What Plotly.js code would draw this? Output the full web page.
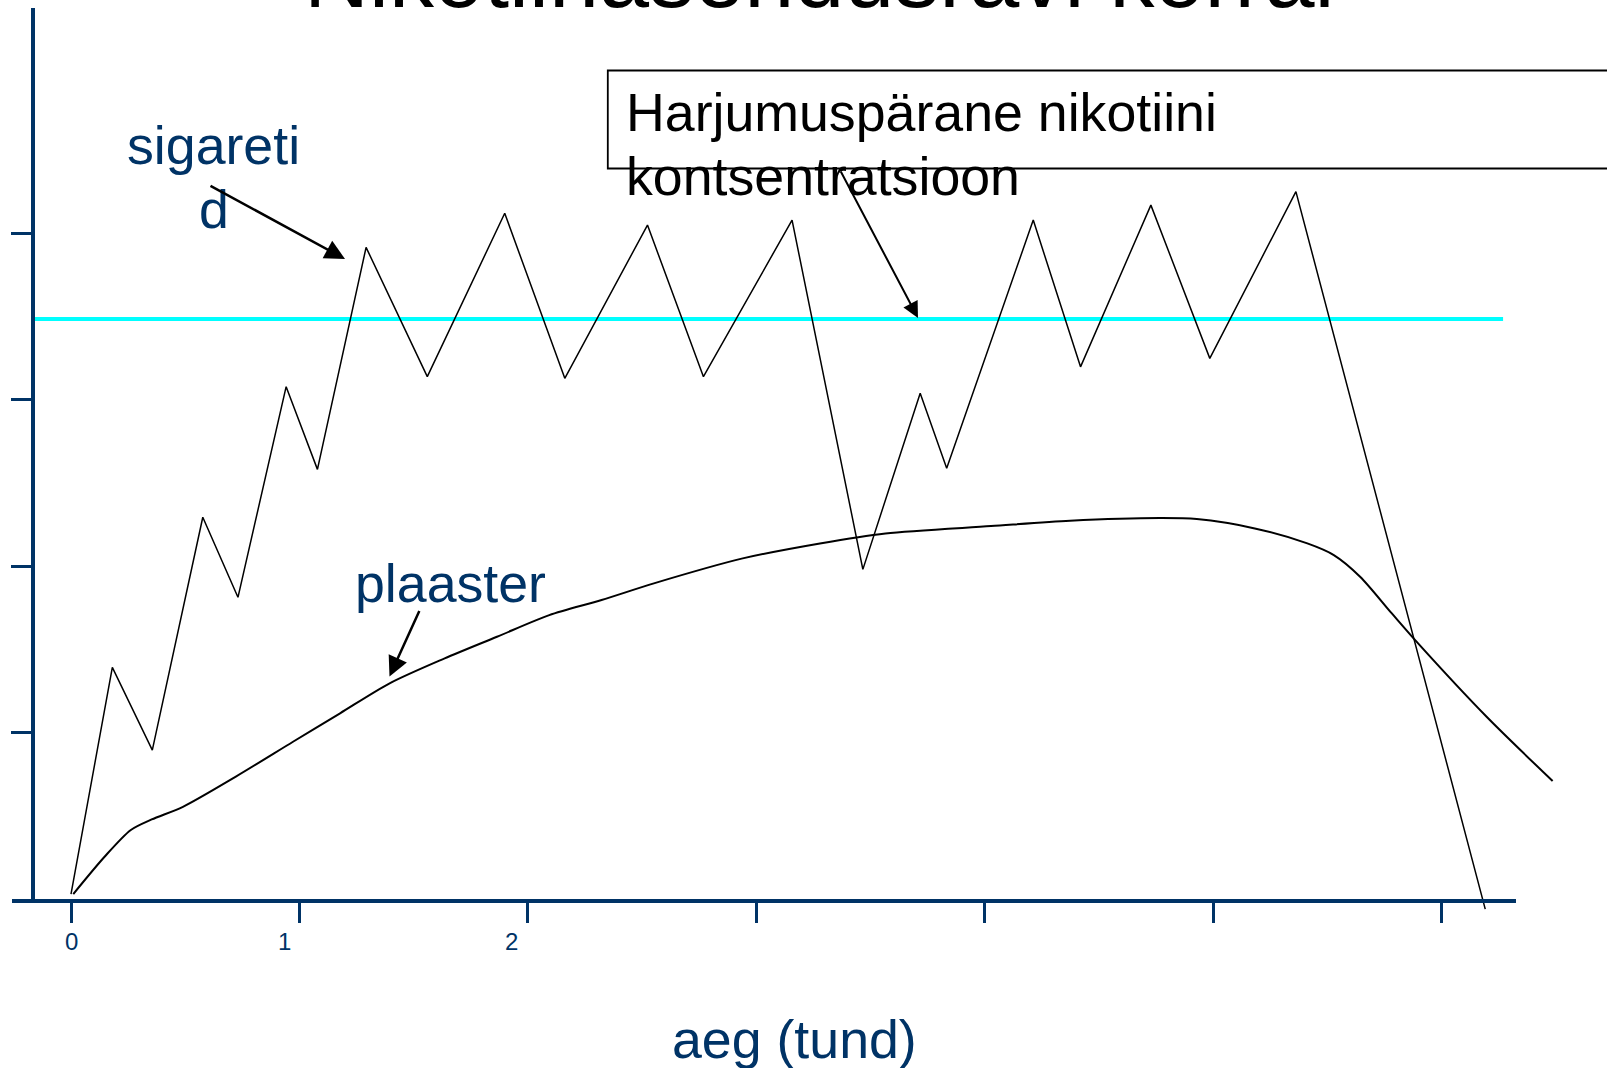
<!DOCTYPE html>
<html>
<head>
<meta charset="utf-8">
<script src="https://cdn.plot.ly/plotly-3.0.1.min.js"></script>
<style>html,body{margin:0;padding:0;background:#fff;}#chart{width:1607px;height:1068px;}</style>
</head>
<body>
<div id="chart"></div>
<script>
// ---------- data (hours on x, concentration in tick units on y) ----------
const hourTicks = [0, 1, 2, 3, 4, 5, 6];
const hourLabels = ['0', '1', '2', '', '', '', ''];
const levelTicks = [1, 2, 3, 4];

const cigaretteTime  = [0.00, 0.181, 0.356, 0.577, 0.731, 0.942, 1.079, 1.292, 1.560, 1.899, 2.162, 2.524, 2.769, 3.157, 3.467, 3.718, 3.834, 4.213, 4.420, 4.728, 4.986, 5.363, 6.192];
const cigaretteLevel = [0.03, 1.392, 0.895, 2.294, 1.813, 3.079, 2.582, 3.916, 3.139, 4.121, 3.129, 4.050, 3.139, 4.080, 1.981, 3.039, 2.588, 4.080, 3.198, 4.170, 3.249, 4.251, -0.061];

const patchTime  = [0.01, 0.147, 0.262, 0.353, 0.490, 0.720, 0.972, 1.178, 1.395, 1.636, 1.865, 2.094, 2.323, 2.552, 2.941, 3.279, 3.566, 4.028, 4.374, 4.767, 4.929, 5.183, 5.413, 5.529, 5.644, 5.783, 5.898, 6.198, 6.487];
const patchLevel = [0.03, 0.254, 0.415, 0.478, 0.554, 0.734, 0.945, 1.116, 1.296, 1.446, 1.576, 1.706, 1.797, 1.897, 2.047, 2.137, 2.197, 2.241, 2.273, 2.289, 2.283, 2.227, 2.137, 2.067, 1.937, 1.716, 1.536, 1.095, 0.709];

const habitualTime  = [-0.16, 6.27];
const habitualLevel = [3.486, 3.486];

const titleText = 'Nikotiinasendusravi korral';
const xTitleText = 'aeg (tund)';
const cigaretteLabel = ['sigareti', 'd'];
const patchLabel = 'plaaster';
const habitualLabel = ['Harjumuspärane nikotiini', 'kontsentratsioon'];

// ---------- geometry / styles ----------
const W = 1607, H = 1068;
const X0PX = 71, HOUR_PX = 228.4, Y0PX = 899, UNIT_PX = 166.4;
const AX_LEFT_PX = 11.5, AX_RIGHT_PX = 1515.7, AX_TOP_PX = 8.3, YAXIS_PX = 32.4;
const NAVY = '#003366';
const FONT = 'Liberation Sans, Arial, Helvetica, sans-serif';
const LABEL_SIZE = 53.7;
const px = v => v / W;
const py = v => 1 - v / H;
const xv = p => (p - X0PX) / HOUR_PX;
const yv = p => (Y0PX - p) / UNIT_PX;

const traces = [
  {x: habitualTime, y: habitualLevel, mode: 'lines', line: {color: '#00FFFF', width: 4}, hoverinfo: 'skip'},
  {x: patchTime, y: patchLevel, mode: 'lines', line: {color: '#000000', width: 2, shape: 'spline', smoothing: 0.8}, hoverinfo: 'skip'},
  {x: cigaretteTime, y: cigaretteLevel, mode: 'lines', line: {color: '#000000', width: 1.5}, hoverinfo: 'skip'}
];

const labelShift = [0, -15, -16, 0, 0, 0, 0];
const annotations = [];
hourTicks.forEach((h, i) => {
  if (!hourLabels[i]) return;
  annotations.push({xref: 'x2', yref: 'paper', x: h, y: py(941.5), xshift: labelShift[i],
    text: hourLabels[i], showarrow: false, xanchor: 'center', yanchor: 'middle',
    font: {family: FONT, size: 24, color: NAVY}});
});
function txt(text, xpx, baseline, size, color, xanchor) {
  annotations.push({xref: 'paper', yref: 'paper', x: px(xpx), y: py(baseline - 0.3465 * size), text: text,
    showarrow: false, xanchor: xanchor || 'center', yanchor: 'middle',
    font: {family: FONT, size: size, color: color}});
}
txt(titleText, 819, 7, 90, '#000000');
txt(xTitleText, 794, 1058, LABEL_SIZE, NAVY);
txt(cigaretteLabel[0], 213.5, 164, LABEL_SIZE, NAVY);
txt(cigaretteLabel[1], 213.5, 227.5, LABEL_SIZE, NAVY);
txt(patchLabel, 450, 602, LABEL_SIZE, NAVY);
txt(habitualLabel[0], 624, 131, LABEL_SIZE, '#000000', 'left');
txt(habitualLabel[1], 624, 195, LABEL_SIZE, '#000000', 'left');

function arrow(tailX, tailY, tipX, tipY, w) {
  annotations.push({xref: 'paper', yref: 'paper', x: px(tipX), y: py(tipY),
    ax: tailX - tipX, ay: tailY - tipY, text: '', showarrow: true,
    arrowhead: 2, arrowsize: 1.6, arrowwidth: w, arrowcolor: '#000000', standoff: 0});
}
arrow(209, 185, 345, 259, 2.5);
arrow(840, 170, 918, 318, 2);
arrow(420, 609.5, 389.5, 676.5, 2.5);

const layout = {
  width: W, height: H,
  margin: {l: 0, r: 0, t: 0, b: 0, pad: 0},
  paper_bgcolor: '#ffffff', plot_bgcolor: 'rgba(0,0,0,0)',
  showlegend: false,
  xaxis: {visible: false, domain: [0, 1], range: [xv(0), xv(W)], fixedrange: true},
  yaxis: {visible: false, domain: [0, 1], range: [yv(H), yv(0)], fixedrange: true},
  xaxis2: {domain: [px(AX_LEFT_PX), px(AX_RIGHT_PX)], range: [xv(AX_LEFT_PX), xv(AX_RIGHT_PX)],
    anchor: 'y2', showline: true, linecolor: NAVY, linewidth: 3.5, showgrid: false, zeroline: false,
    ticks: 'outside', tickmode: 'array', tickvals: hourTicks, ticklen: 20, tickwidth: 3, tickcolor: NAVY,
    showticklabels: false, fixedrange: true},
  yaxis2: {domain: [py(Y0PX), py(AX_TOP_PX)], range: [0, yv(AX_TOP_PX)],
    anchor: 'free', position: px(YAXIS_PX), showline: true, linecolor: NAVY, linewidth: 3.5,
    showgrid: false, zeroline: false, ticks: 'outside', tickmode: 'array', tickvals: levelTicks,
    ticklen: 20, tickwidth: 3, tickcolor: NAVY, showticklabels: false, fixedrange: true},
  shapes: [{type: 'rect', xref: 'paper', yref: 'paper', x0: px(607.8), x1: px(1640), y0: py(168.5), y1: py(70.5),
    line: {color: '#000000', width: 1.8}, fillcolor: 'rgba(0,0,0,0)'}],
  annotations: annotations
};

Plotly.newPlot('chart', traces, layout, {staticPlot: true, displayModeBar: false});
</script>
</body>
</html>
